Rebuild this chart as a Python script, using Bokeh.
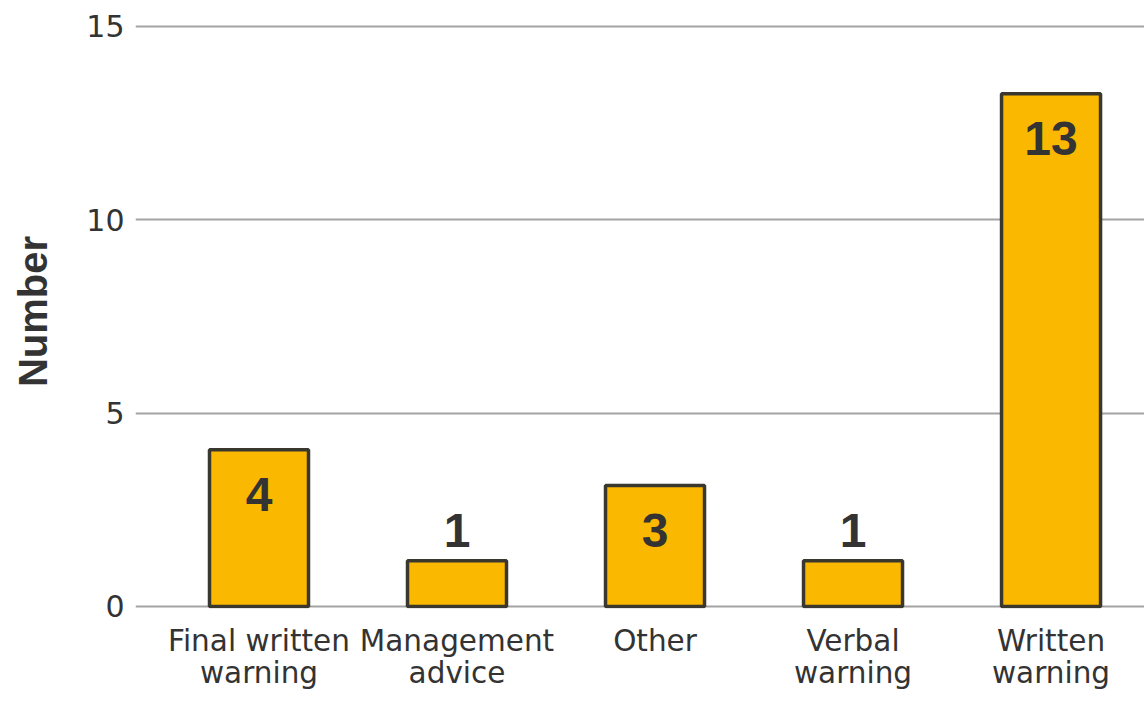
from bokeh.plotting import figure
from bokeh.models import FixedTicker, Range1d, ColumnDataSource
from bokeh.core.properties import value
from bokeh.embed import file_html
from bokeh.resources import INLINE

categories = ["Final written\nwarning", "Management\nadvice", "Other", "Verbal\nwarning", "Written\nwarning"]
bar_heights = [4.05, 1.18, 3.13, 1.18, 13.25]
bar_labels = ["4", "1", "3", "1", "13"]
y_ticks = [0, 5, 10, 15]

FONT = "DejaVu Sans"
NUMFONT = "Liberation Sans"
TEXT = "#333333"
xs = list(range(len(categories)))

p = figure(frame_width=1009, frame_height=594, output_backend="svg", toolbar_location=None,
           x_range=Range1d(-0.6237, 4.472), y_range=Range1d(-0.052, 15.3),
           min_border_left=135, min_border_top=14, min_border_right=0, min_border_bottom=110)
p.outline_line_color = None
p.background_fill_color = "white"
p.border_fill_color = "white"

src = ColumnDataSource(dict(x=xs, top=bar_heights, label=bar_labels))
p.vbar(x="x", top="top", bottom=0, width=0.5, source=src,
       fill_color="#FBB800", line_color="#3A372F", line_width=3.5)

inside = [i for i, h in enumerate(bar_heights) if h > 2]
above = [i for i, h in enumerate(bar_heights) if h <= 2]
p.text(x=[xs[i] for i in inside], y=[bar_heights[i] for i in inside],
       text=[bar_labels[i] for i in inside], y_offset=45,
       text_align="center", text_baseline="middle", text_font=value(NUMFONT),
       text_font_style="bold", text_font_size="48px", text_color=TEXT)
p.text(x=[xs[i] for i in above], y=[bar_heights[i] for i in above],
       text=[bar_labels[i] for i in above], y_offset=-30,
       text_align="center", text_baseline="middle", text_font=value(NUMFONT),
       text_font_style="bold", text_font_size="48px", text_color=TEXT)

# x axis
p.xaxis.ticker = FixedTicker(ticks=xs)
p.xaxis.major_label_overrides = {i: c for i, c in enumerate(categories)}
p.xaxis.axis_line_color = None
p.xaxis.major_tick_line_color = None
p.xaxis.minor_tick_line_color = None
p.xaxis.major_label_standoff = 9
p.xaxis.major_label_text_font = FONT
p.xaxis.major_label_text_font_size = "29.5px"
p.xaxis.major_label_text_color = TEXT
p.xaxis.major_label_text_line_height = 0.95
p.xgrid.grid_line_color = None

# y axis
p.yaxis.ticker = FixedTicker(ticks=y_ticks)
p.yaxis.axis_line_color = None
p.yaxis.major_tick_line_color = None
p.yaxis.minor_tick_line_color = None
p.yaxis.major_label_standoff = 5
p.yaxis.major_label_text_font = FONT
p.yaxis.major_label_text_font_size = "30px"
p.yaxis.major_label_text_color = TEXT
p.yaxis.axis_label = "Number"
p.yaxis.axis_label_text_font = NUMFONT
p.yaxis.axis_label_text_font_style = "bold"
p.yaxis.axis_label_text_font_size = "40px"
p.yaxis.axis_label_text_color = TEXT
p.yaxis.axis_label_standoff = 28
p.ygrid.grid_line_color = "#a3a3a3"
p.ygrid.grid_line_width = 2

open("out.html", "w").write(file_html(p, INLINE))
